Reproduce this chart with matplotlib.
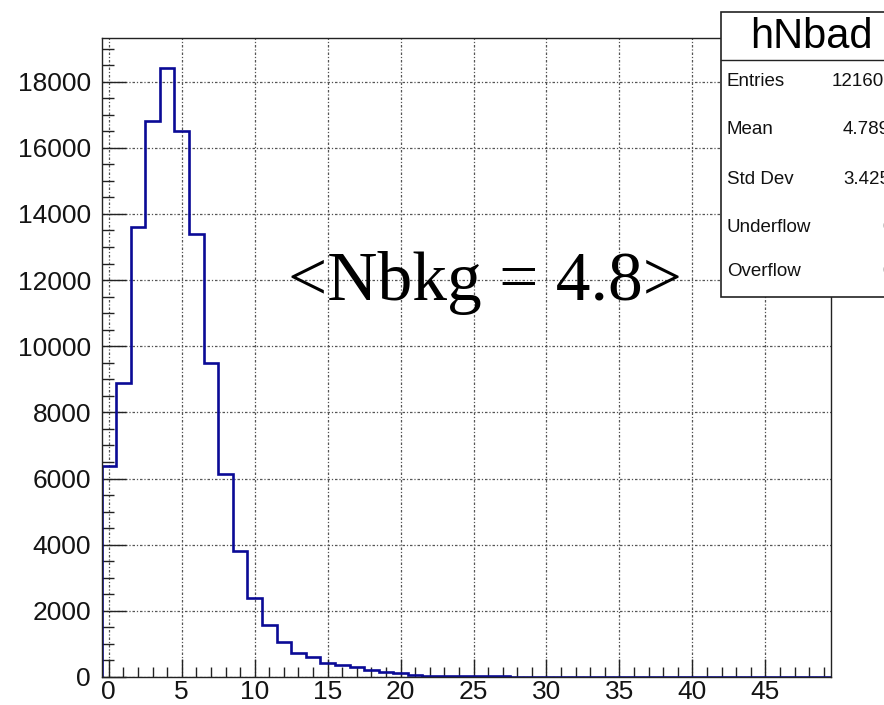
import numpy as np
import matplotlib
matplotlib.use("Agg")
import matplotlib.pyplot as plt
from matplotlib.ticker import MultipleLocator
from matplotlib.patches import Rectangle
from matplotlib.lines import Line2D

# ---- data ----
bin_edges = np.arange(-0.5, 50.5, 1.0)
counts = [6370, 8900, 13600, 16800, 18400, 16500, 13400, 9480, 6130, 3800,
          2390, 1570, 1060, 716, 613, 413, 362, 292, 211, 161,
          121, 50, 45, 40, 35, 30, 20, 18, 15, 15,
          12, 10, 0, 0, 10, 0, 0, 0, 0, 0,
          0, 0, 0, 0, 0, 0, 0, 0, 0, 0]
x_ticks = [0, 5, 10, 15, 20, 25, 30, 35, 40, 45]
y_ticks = [0, 2000, 4000, 6000, 8000, 10000, 12000, 14000, 16000, 18000]
hist_title = "hNbad"
stat_names = ["Entries", "Mean", "Std Dev", "Underflow", "Overflow"]
stat_values = ["121600", "4.789", "3.425", "0", "0"]
annotation = "<Nbkg = 4.8>"

W, H = 884, 705
fig = plt.figure(figsize=(W / 100, H / 100), dpi=100)
fig.patch.set_facecolor("white")

def fx(x):
    return x / W

def fy(y):
    return 1 - y / H

ax_l, ax_r, ax_t, ax_b = 101.5, 831, 38, 677
ax = fig.add_axes([fx(ax_l), fy(ax_b), (ax_r - ax_l) / W, (ax_b - ax_t) / H])

ax.stairs(counts, bin_edges, color="#0a0a96", linewidth=1.9, zorder=3)

ax.set_xlim(-0.5, 49.5)
ax.set_ylim(0, 19320)
ax.set_xticks(x_ticks)
ax.set_yticks(y_ticks)
ax.xaxis.set_minor_locator(MultipleLocator(1))
ax.yaxis.set_minor_locator(MultipleLocator(500))

ax.tick_params(axis="both", which="both", direction="in", top=False, right=False,
               color="#222222", width=1.0)
ax.tick_params(axis="x", which="major", length=13, pad=2, labelsize=19)
ax.tick_params(axis="x", which="minor", length=7)
ax.tick_params(axis="y", which="major", length=17, pad=7.5, labelsize=19)
ax.tick_params(axis="y", which="minor", length=8.5)
for lab in ax.get_xticklabels() + ax.get_yticklabels():
    lab.set_fontfamily("Liberation Sans")
    lab.set_color("#141414")

ax.grid(True, which="major", color="#555555", linestyle=(0, (2, 1.5, 1, 1.5)),
        linewidth=0.9, zorder=1)
ax.set_axisbelow(True)
for s in ax.spines.values():
    s.set_color("#222222")
    s.set_linewidth(1.0)
    s.set_zorder(4)

fig.text(fx(485), fy(283), annotation, ha="center", va="center",
         fontsize=50, family="Liberation Serif", color="black")

# ---- stats box ----
bx_l, bx_t, bx_b, bx_r = 721, 12, 297, 930
fig.add_artist(Rectangle((fx(bx_l), fy(bx_b)), (bx_r - bx_l) / W, (bx_b - bx_t) / H,
                         transform=fig.transFigure, facecolor="white",
                         edgecolor="#222222", linewidth=1.2, zorder=5))
fig.add_artist(Line2D([fx(bx_l), fx(bx_r)], [fy(60), fy(60)],
                      transform=fig.transFigure, color="#222222", linewidth=1.0, zorder=6))
fig.text(fx(811), fy(37), hist_title, ha="center", va="center", fontsize=30,
         family="Liberation Sans", color="black", zorder=7)
row_y = [82, 129, 180, 227, 272]
val_x = [832, 843, 843, 882, 882]
for name, val, yy, vx in zip(stat_names, stat_values, row_y, val_x):
    fig.text(fx(727), fy(yy), name, ha="left", va="center", fontsize=13.5,
             family="Liberation Sans", color="#111111", zorder=7)
    fig.text(fx(vx), fy(yy), val, ha="left", va="center", fontsize=13.5,
             family="Liberation Sans", color="#111111", zorder=7)

fig.savefig("out.png", dpi=100)
